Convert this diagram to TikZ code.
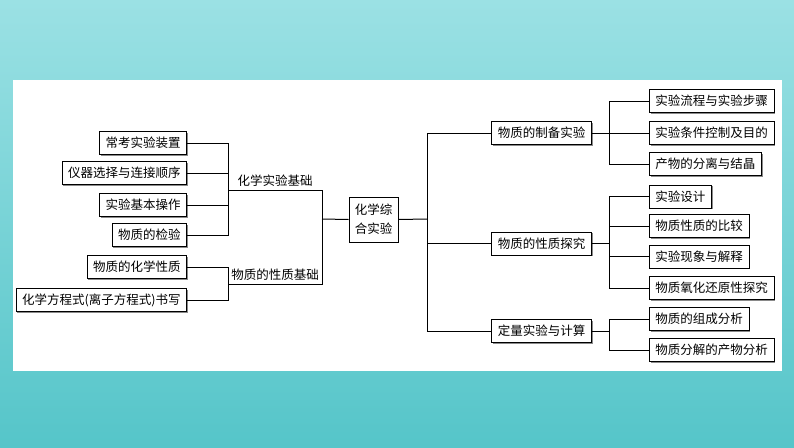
\documentclass[tikz,border=0pt]{standalone}
\usepackage{fontspec}
\setmainfont{Noto Sans CJK SC}
\usetikzlibrary{shadows}
\definecolor{bgtop}{HTML}{9BE1E4}
\definecolor{bgbot}{HTML}{55C5C9}
\definecolor{shad}{HTML}{8A8A8A}
\begin{document}
\begin{tikzpicture}[x=1pt,y=-1pt,
  box/.style={draw=black,line width=0.9pt,fill=white,inner xsep=6pt,inner ysep=0pt,
    minimum height=23pt,font=\fontsize{12.5pt}{15pt}\selectfont,
    drop shadow={shadow xshift=1.3pt,shadow yshift=-1.3pt,fill=shad,opacity=1}},
  lab/.style={inner sep=0pt,font=\fontsize{12.5pt}{15pt}\selectfont},
  conn/.style={line width=1pt,draw=black}]
\useasboundingbox (0,0) rectangle (794,447);
\shade[top color=bgtop,bottom color=bgbot] (0,0) rectangle (794,447);
\fill[white] (13,80) rectangle (782,371);

% left boxes
\node[box,anchor=east] (b1) at (187,143) {常考实验装置};
\node[box,anchor=east] (b2) at (187,173) {仪器选择与连接顺序};
\node[box,anchor=east] (b3) at (187,205) {实验基本操作};
\node[box,anchor=east] (b4) at (187,235) {物质的检验};
\node[box,anchor=east] (b5) at (187,267) {物质的化学性质};
\node[box,anchor=east] (b6) at (187,300) {化学方程式(离子方程式)书写};

\coordinate (jL1) at (228,190);
\coordinate (jL2) at (228,284);
\coordinate (jC) at (322,219);
\node[lab,anchor=south] (l1) at (275,187) {化学实验基础};
\node[lab,anchor=south] (l2) at (275,281) {物质的性质基础};

\foreach \b in {b1,b2,b3,b4} \draw[conn] (\b.east) -| (jL1);
\foreach \b in {b5,b6} \draw[conn] (\b.east) -| (jL2);
\draw[conn] (jL1) -| (jC);
\draw[conn] (jL2) -| (jC);

% center
\node[box,minimum width=49pt,minimum height=45pt,inner xsep=0pt,align=center,
  font=\fontsize{12.5pt}{19pt}\selectfont] (c) at (373.5,219.5) {化学综\\合实验};
\draw[conn] (jC) -- (c.west);

\coordinate (jR) at (427,219);
\draw[conn] (c.east) -- (jR);

% middle boxes
\node[box,minimum width=99pt] (m1) at (541.5,133) {物质的制备实验};
\node[box,minimum width=99pt] (m2) at (541.5,243.5) {物质的性质探究};
\node[box,minimum width=99pt] (m3) at (541.5,331) {定量实验与计算};
\foreach \m in {m1,m2,m3} \draw[conn] (jR) |- (\m.west);

% right boxes
\node[box,anchor=west] (r1) at (649,101) {实验流程与实验步骤};
\node[box,anchor=west] (r2) at (649,133) {实验条件控制及目的};
\node[box,anchor=west] (r3) at (649,164) {产物的分离与结晶};
\node[box,anchor=west] (r4) at (649,196.5) {实验设计};
\node[box,anchor=west] (r5) at (649,226) {物质性质的比较};
\node[box,anchor=west] (r6) at (649,256.5) {实验现象与解释};
\node[box,anchor=west] (r7) at (649,288) {物质氧化还原性探究};
\node[box,anchor=west] (r8) at (649,319) {物质的组成分析};
\node[box,anchor=west] (r9) at (649,350) {物质分解的产物分析};

\coordinate (k1) at (609,133);
\coordinate (k2) at (609,243.5);
\coordinate (k3) at (609,331);
\draw[conn] (m1.east) -- (k1);
\draw[conn] (m2.east) -- (k2);
\draw[conn] (m3.east) -- (k3);
\foreach \r in {r1,r2,r3} \draw[conn] (k1) |- (\r.west);
\foreach \r in {r4,r5,r6,r7} \draw[conn] (k2) |- (\r.west);
\foreach \r in {r8,r9} \draw[conn] (k3) |- (\r.west);
\end{tikzpicture}
\end{document}
